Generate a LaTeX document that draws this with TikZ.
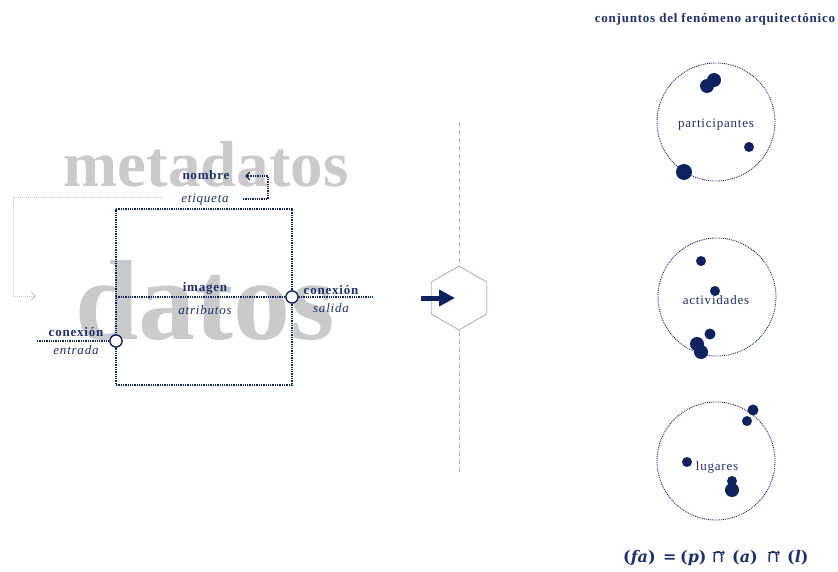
\documentclass[tikz,border=0pt]{standalone}
\usepackage{fontspec}
\setmainfont{Liberation Serif}
\newfontfamily\lab{Liberation Serif}[LetterSpace=6]
\newfontfamily\symf{DejaVu Sans}
\newfontfamily\fmf{DejaVu Serif}
\usetikzlibrary{arrows.meta,shapes.geometric}
\definecolor{navy}{RGB}{14,34,96}
\definecolor{txtnavy}{RGB}{30,48,105}
\definecolor{biggrey}{RGB}{202,202,202}
\definecolor{lgrey}{RGB}{196,196,196}
\definecolor{axisgrey}{RGB}{168,178,200}
\begin{document}
\begin{tikzpicture}[x=1pt,y=-1pt,
  big/.style={text=biggrey, inner sep=0, anchor=base, font=\bfseries},
  lb/.style={text=txtnavy, inner sep=0, anchor=base, font=\lab\fontsize{13}{15}\selectfont\bfseries},
  li/.style={text=txtnavy, inner sep=0, anchor=base, font=\lab\fontsize{13}{15}\selectfont\itshape},
  lr/.style={text=txtnavy, inner sep=0, anchor=base, font=\lab\fontsize{13}{15}\selectfont},
  fm/.style={text=txtnavy, inner sep=0, anchor=base west, font=\fmf\fontsize{16}{19}\selectfont\bfseries},
  fc/.style={text=txtnavy, inner sep=0, anchor=base west, font=\symf\fontsize{19}{22}\selectfont},
  farr/.style={txtnavy, line width=1, -{To[length=2.5,width=4.5]}},
  dotline/.style={navy, densely dotted, line width=1.3},
  port/.style={circle, draw=navy, fill=white, line width=1.2, minimum size=12, inner sep=0},
  setcirc/.style={circle, draw=navy, densely dotted, line width=0.9, minimum size=118, inner sep=0},
  dot/.style={circle, fill=navy, inner sep=0},
]
\useasboundingbox (0,0) rectangle (838,572);

% big background words
\node[big, font=\bfseries\fontsize{65}{65}\selectfont] (meta) at (206,187) {metadatos};
\node[big, font=\bfseries\fontsize{114}{114}\selectfont] (dat) at (205,339) {datos};

% grey feedback path
\coordinate (g1) at (163,198);
\coordinate (g2) at (13,198);
\coordinate (g3) at (13,296);
\coordinate (g4) at (36,296);
\draw[lgrey, densely dotted, line width=1, -{Straight Barb[length=4,width=8]}] (g1) -- (g2) -- (g3) -- (g4);

% box
\coordinate (b1) at (116,209);
\coordinate (b2) at (292,209);
\coordinate (b3) at (292,385);
\coordinate (b4) at (116,385);
\draw[dotline] (b1) -- (b2) -- (b3) -- (b4) -- cycle;

% ports
\node[port] (pout) at (292,297) {};
\node[port] (pin) at (116,341) {};
\coordinate (mL) at (116,297);
\coordinate (mR) at (373,297);
\coordinate (eL) at (37,341);
\draw[dotline] (mL) -- (pout);
\draw[dotline] (pout) -- (mR);
\draw[dotline] (eL) -- (pin);
\node[port] (pout2) at (292,297) {};
\node[port] (pin2) at (116,341) {};

% nombre arrow
\coordinate (n1) at (243,199);
\coordinate (n2) at (268,199);
\coordinate (n3) at (268,176);
\coordinate (n4) at (245,176);
\draw[navy, densely dotted, line width=1.3, -{Straight Barb[length=4,width=8]}] (n1) -- (n2) -- (n3) -- (n4);

% labels
\node[lb] (nombre) at (206,180) {nombre};
\node[li] (etiq) at (205,203) {etiqueta};
\node[lb] (imagen) at (205,291) {imagen};
\node[li] (atrib) at (205,314) {atributos};
\node[lb] (conS) at (331,294) {conexión};
\node[li] (sal) at (331,312) {salida};
\node[lb] (conE) at (76,336) {conexión};
\node[li] (ent) at (76,354) {entrada};

% middle axis and hexagon
\node[regular polygon, regular polygon sides=6, shape border rotate=30, minimum size=64, inner sep=0, draw=axisgrey, line width=0.9] (hex) at (459,298) {};
\coordinate (vt) at (459,122);
\coordinate (vb) at (459,474);
\draw[axisgrey, dash pattern=on 5 off 3, line width=0.9] (vt) -- (hex.north);
\draw[axisgrey, dash pattern=on 5 off 3, line width=0.9] (hex.south) -- (vb);
\coordinate (as) at (421,298);
\coordinate (ae) at (455,298);
\draw[navy, line width=5, -{Triangle[length=16,width=16]}] (as) -- (ae);

% right title
\node[lb] (title) at (715,23) {conjuntos del fenómeno arquitectónico};

% set circles
\node[setcirc] (c1) at (716,122) {};
\node[setcirc] (c2) at (717,297) {};
\node[setcirc] (c3) at (716,461) {};
\node[lr] (tp) at (716,128) {participantes};
\node[lr] (ta) at (716,304) {actividades};
\node[lr] (tl) at (717,470) {lugares};

% dots circle 1
\node[dot, minimum size=14] (d11) at (707,86) {};
\node[dot, minimum size=14] (d12) at (714,80) {};
\node[dot, minimum size=10] (d13) at (749,147) {};
\node[dot, minimum size=16] (d14) at (684,172) {};
% dots circle 2
\node[dot, minimum size=10] (d21) at (701,261) {};
\node[dot, minimum size=10] (d22) at (715,291) {};
\node[dot, minimum size=11] (d23) at (710,334) {};
\node[dot, minimum size=14] (d24) at (697,344) {};
\node[dot, minimum size=14] (d25) at (701,352) {};
% dots circle 3
\node[dot, minimum size=11] (d31) at (753,410) {};
\node[dot, minimum size=10] (d32) at (747,421) {};
\node[dot, minimum size=10] (d33) at (687,462) {};
\node[dot, minimum size=10] (d34) at (732,481) {};
\node[dot, minimum size=14] (d35) at (732,490) {};

% formula
\node[fm] (f1) at (623,562) {(\textit{fa})};
\node[fm] (feq) at (663,562) {=};
\node[fm] (f2) at (680,562) {(\textit{p})};
\node[fc] (k1) at (711,562) {∩};
\node[fm] (f3) at (732,562) {(\textit{a})};
\node[fc] (k2) at (766,562) {∩};
\node[fm] (f4) at (787,562) {(\textit{l})};
\draw[farr] ([xshift=1.5,yshift=-2]k1.north west) -- ([xshift=-0.5,yshift=-2]k1.north east);
\draw[farr] ([xshift=1.5,yshift=-2]k2.north west) -- ([xshift=-0.5,yshift=-2]k2.north east);
\end{tikzpicture}
\end{document}
